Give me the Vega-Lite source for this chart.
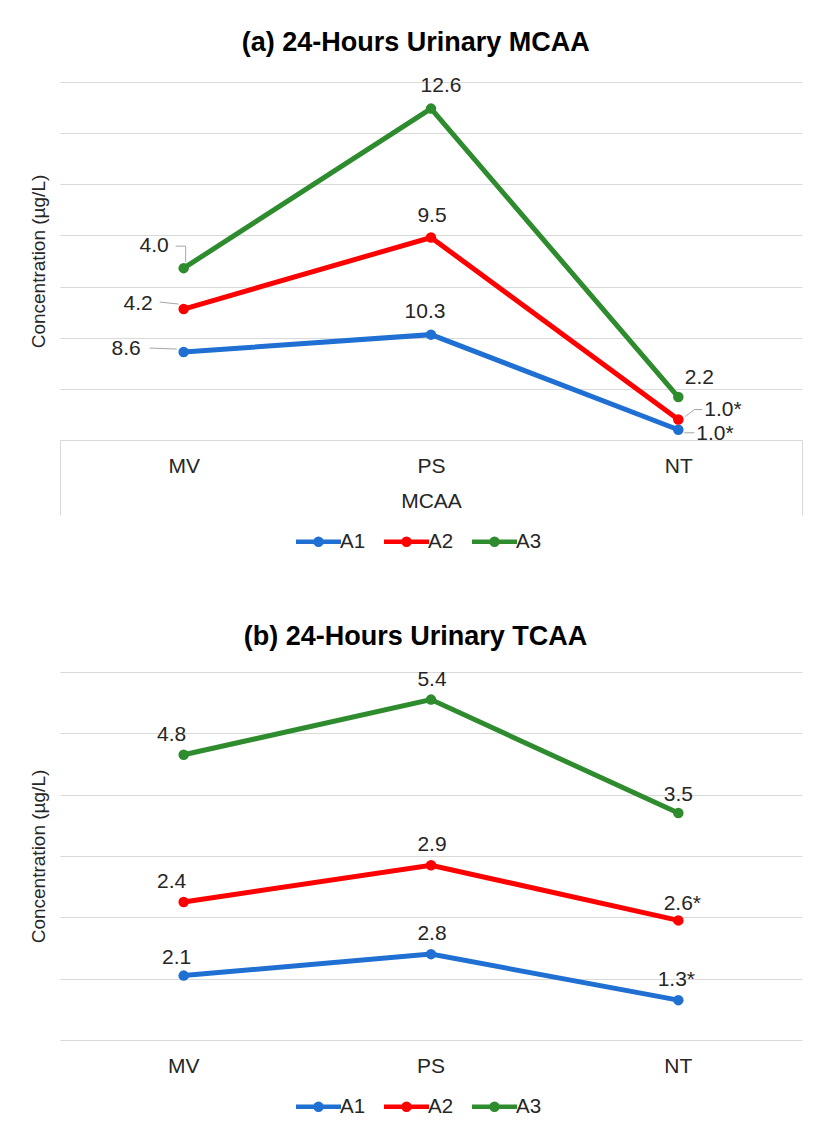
{
  "$schema": "https://vega.github.io/schema/vega-lite/v6.json",
  "padding": {"left": 29, "top": 28, "right": 5, "bottom": 2},
  "datasets": {
    "mcaa": [
      {"cat": "MV", "series": "A1", "value": 8.6, "label": "8.6"},
      {"cat": "MV", "series": "A2", "value": 4.2, "label": "4.2"},
      {"cat": "MV", "series": "A3", "value": 4.0, "label": "4.0"},
      {"cat": "PS", "series": "A1", "value": 10.3, "label": "10.3"},
      {"cat": "PS", "series": "A2", "value": 9.5, "label": "9.5"},
      {"cat": "PS", "series": "A3", "value": 12.6, "label": "12.6"},
      {"cat": "NT", "series": "A1", "value": 1.0, "label": "1.0*"},
      {"cat": "NT", "series": "A2", "value": 1.0, "label": "1.0*"},
      {"cat": "NT", "series": "A3", "value": 2.2, "label": "2.2"}
    ],
    "tcaa": [
      {"cat": "MV", "series": "A1", "value": 2.1, "label": "2.1"},
      {"cat": "MV", "series": "A2", "value": 2.4, "label": "2.4"},
      {"cat": "MV", "series": "A3", "value": 4.8, "label": "4.8"},
      {"cat": "PS", "series": "A1", "value": 2.8, "label": "2.8"},
      {"cat": "PS", "series": "A2", "value": 2.9, "label": "2.9"},
      {"cat": "PS", "series": "A3", "value": 5.4, "label": "5.4"},
      {"cat": "NT", "series": "A1", "value": 1.3, "label": "1.3*"},
      {"cat": "NT", "series": "A2", "value": 2.6, "label": "2.6*"},
      {"cat": "NT", "series": "A3", "value": 3.5, "label": "3.5"}
    ]
  },
  "config": {
    "font": "Liberation Sans",
    "view": {"stroke": null},
    "axis": {"gridColor": "#d9d9d9", "domainColor": "#d9d9d9", "labelColor": "#262626", "titleColor": "#262626", "titleFontWeight": "normal", "labelFontSize": 21, "titleFontSize": 19},
    "title": {"fontSize": 27, "fontWeight": "bold", "color": "#000000", "offset": 18, "frame": "bounds"},
    "legend": {"orient": "none", "direction": "horizontal", "title": null, "labelFontSize": 20.5, "labelColor": "#262626", "symbolType": "M-1.5,0H1.5M0.2,0A0.2,0.2,0,1,1,-0.2,0A0.2,0.2,0,1,1,0.2,0", "symbolSize": 900, "symbolStrokeWidth": 4.5, "labelOffset": 4, "columnPadding": 9},
    "text": {"fontSize": 21, "color": "#262626"},
    "rule": {"color": "#a6a6a6", "strokeWidth": 1},
    "concat": {"spacing": 68}
  },
  "resolve": {"scale": {"color": "independent"}, "legend": {"color": "independent"}},
  "vconcat": [
    {
      "title": {"text": "(a) 24-Hours Urinary MCAA"},
      "width": 742,
      "height": 358,
      "data": {"name": "mcaa"},
      "transform": [{"stack": "value", "groupby": ["cat"], "sort": [{"field": "series", "order": "ascending"}], "as": ["y0", "y1"]}],
      "encoding": {
        "x": {"field": "cat", "type": "nominal", "sort": ["MV", "PS", "NT"], "scale": {"type": "band", "paddingInner": 0, "paddingOuter": 0},
          "axis": {"title": "MCAA", "labelAngle": 0, "domain": true, "ticks": true, "tickBand": "extent", "tickSize": 75, "tickColor": {"condition": {"test": "datum.value == 'NT' || datum.extra", "value": "#d9d9d9"}, "value": "transparent"}, "labelPadding": -60, "titlePadding": -25, "titleFontSize": 21, "grid": false}},
        "y": {"field": "y1", "type": "quantitative", "scale": {"domain": [0, 35]},
          "axis": {"values": [0, 5, 10, 15, 20, 25, 30, 35], "labels": false, "ticks": false, "domain": false, "title": "Concentration (µg/L)", "titlePadding": 12}},
        "color": {"field": "series", "type": "nominal", "scale": {"domain": ["A1", "A2", "A3"], "range": ["#1f70d2", "#ff0000", "#2e8b2e"]}, "legend": {"legendX": 241, "legendY": 442}}
      },
      "layer": [
        {"mark": {"type": "line", "strokeWidth": 5}},
        {"mark": {"type": "point", "filled": true, "size": 110, "opacity": 1}},
        {"transform": [{"filter": "datum.cat == 'MV' && datum.series == 'A1'"}], "mark": {"type": "rule", "xOffset": -34, "yOffset": -4, "x2Offset": -7, "y2Offset": -3}, "encoding": {"x": {"field": "cat", "type": "nominal", "bandPosition": 0.5}, "x2": {"field": "cat", "bandPosition": 0.5}, "y2": {"field": "y1"}, "color": {"value": "#a6a6a6"}}},
        {"transform": [{"filter": "datum.cat == 'MV' && datum.series == 'A2'"}], "mark": {"type": "rule", "xOffset": -24, "yOffset": -7, "x2Offset": -5, "y2Offset": -5}, "encoding": {"x": {"field": "cat", "type": "nominal", "bandPosition": 0.5}, "x2": {"field": "cat", "bandPosition": 0.5}, "y2": {"field": "y1"}, "color": {"value": "#a6a6a6"}}},
        {"transform": [{"filter": "datum.cat == 'MV' && datum.series == 'A3'"}], "mark": {"type": "rule", "xOffset": -8, "yOffset": -22, "x2Offset": 2, "y2Offset": -22}, "encoding": {"x": {"field": "cat", "type": "nominal", "bandPosition": 0.5}, "x2": {"field": "cat", "bandPosition": 0.5}, "y2": {"field": "y1"}, "color": {"value": "#a6a6a6"}}},
        {"transform": [{"filter": "datum.cat == 'MV' && datum.series == 'A3'"}], "mark": {"type": "rule", "xOffset": 2, "yOffset": -22, "x2Offset": 2, "y2Offset": -6}, "encoding": {"x": {"field": "cat", "type": "nominal", "bandPosition": 0.5}, "x2": {"field": "cat", "bandPosition": 0.5}, "y2": {"field": "y1"}, "color": {"value": "#a6a6a6"}}},
        {"transform": [{"filter": "datum.cat == 'NT' && datum.series == 'A2'"}], "mark": {"type": "rule", "xOffset": 16, "yOffset": -10, "x2Offset": 24, "y2Offset": -10}, "encoding": {"x": {"field": "cat", "type": "nominal", "bandPosition": 0.5}, "x2": {"field": "cat", "bandPosition": 0.5}, "y2": {"field": "y1"}, "color": {"value": "#a6a6a6"}}},
        {"transform": [{"filter": "datum.cat == 'NT' && datum.series == 'A2'"}], "mark": {"type": "rule", "xOffset": 16, "yOffset": -10, "x2Offset": 7, "y2Offset": -3}, "encoding": {"x": {"field": "cat", "type": "nominal", "bandPosition": 0.5}, "x2": {"field": "cat", "bandPosition": 0.5}, "y2": {"field": "y1"}, "color": {"value": "#a6a6a6"}}},
        {"transform": [{"filter": "datum.cat == 'NT' && datum.series == 'A1'"}], "mark": {"type": "rule", "xOffset": 6, "yOffset": 3, "x2Offset": 16, "y2Offset": 3}, "encoding": {"x": {"field": "cat", "type": "nominal", "bandPosition": 0.5}, "x2": {"field": "cat", "bandPosition": 0.5}, "y2": {"field": "y1"}, "color": {"value": "#a6a6a6"}}},
        {"transform": [{"filter": "datum.cat == 'MV' && datum.series == 'A1'"}], "mark": {"type": "text", "align": "right", "dx": -43, "dy": -3}, "encoding": {"text": {"field": "label"}, "color": {"value": "#262626"}}},
        {"transform": [{"filter": "datum.cat == 'MV' && datum.series == 'A2'"}], "mark": {"type": "text", "align": "right", "dx": -31, "dy": -5}, "encoding": {"text": {"field": "label"}, "color": {"value": "#262626"}}},
        {"transform": [{"filter": "datum.cat == 'MV' && datum.series == 'A3'"}], "mark": {"type": "text", "align": "right", "dx": -15, "dy": -22}, "encoding": {"text": {"field": "label"}, "color": {"value": "#262626"}}},
        {"transform": [{"filter": "datum.cat == 'PS' && datum.series == 'A1'"}], "mark": {"type": "text", "align": "center", "dx": -6, "dy": -23}, "encoding": {"text": {"field": "label"}, "color": {"value": "#262626"}}},
        {"transform": [{"filter": "datum.cat == 'PS' && datum.series == 'A2'"}], "mark": {"type": "text", "align": "center", "dx": 1, "dy": -21}, "encoding": {"text": {"field": "label"}, "color": {"value": "#262626"}}},
        {"transform": [{"filter": "datum.cat == 'PS' && datum.series == 'A3'"}], "mark": {"type": "text", "align": "center", "dx": 10, "dy": -23}, "encoding": {"text": {"field": "label"}, "color": {"value": "#262626"}}},
        {"transform": [{"filter": "datum.cat == 'NT' && datum.series == 'A3'"}], "mark": {"type": "text", "align": "center", "dx": 21, "dy": -19}, "encoding": {"text": {"field": "label"}, "color": {"value": "#262626"}}},
        {"transform": [{"filter": "datum.cat == 'NT' && datum.series == 'A2'"}], "mark": {"type": "text", "align": "left", "dx": 26, "dy": -10}, "encoding": {"text": {"field": "label"}, "color": {"value": "#262626"}}},
        {"transform": [{"filter": "datum.cat == 'NT' && datum.series == 'A1'"}], "mark": {"type": "text", "align": "left", "dx": 18, "dy": 4}, "encoding": {"text": {"field": "label"}, "color": {"value": "#262626"}}}
      ]
    },
    {
      "title": {"text": "(b) 24-Hours Urinary TCAA"},
      "width": 742,
      "height": 368,
      "data": {"name": "tcaa"},
      "transform": [{"stack": "value", "groupby": ["cat"], "sort": [{"field": "series", "order": "ascending"}], "as": ["y0", "y1"]}],
      "encoding": {
        "x": {"field": "cat", "type": "nominal", "sort": ["MV", "PS", "NT"], "scale": {"type": "band", "paddingInner": 0, "paddingOuter": 0},
          "axis": {"title": null, "labelAngle": 0, "domain": false, "ticks": false, "labelPadding": 15, "grid": false}},
        "y": {"field": "y1", "type": "quantitative", "scale": {"domain": [0, 12]},
          "axis": {"values": [0, 2, 4, 6, 8, 10, 12], "labels": false, "ticks": false, "domain": false, "title": "Concentration (µg/L)", "titlePadding": 12}},
        "color": {"field": "series", "type": "nominal", "scale": {"domain": ["A1", "A2", "A3"], "range": ["#1f70d2", "#ff0000", "#2e8b2e"]}, "legend": {"legendX": 241, "legendY": 417}}
      },
      "layer": [
        {"mark": {"type": "line", "strokeWidth": 5}},
        {"mark": {"type": "point", "filled": true, "size": 110, "opacity": 1}},
        {"transform": [{"filter": "datum.cat == 'MV' && datum.series == 'A1'"}], "mark": {"type": "text", "align": "center", "dx": -7, "dy": -18}, "encoding": {"text": {"field": "label"}, "color": {"value": "#262626"}}},
        {"transform": [{"filter": "datum.cat == 'MV' && datum.series != 'A1'"}], "mark": {"type": "text", "align": "center", "dx": -12, "dy": -20}, "encoding": {"text": {"field": "label"}, "color": {"value": "#262626"}}},
        {"transform": [{"filter": "datum.cat == 'PS'"}], "mark": {"type": "text", "align": "center", "dx": 1, "dy": -20}, "encoding": {"text": {"field": "label"}, "color": {"value": "#262626"}}},
        {"transform": [{"filter": "datum.cat == 'NT' && datum.series == 'A3'"}], "mark": {"type": "text", "align": "center", "dx": 0, "dy": -18}, "encoding": {"text": {"field": "label"}, "color": {"value": "#262626"}}},
        {"transform": [{"filter": "datum.cat == 'NT' && datum.series == 'A2'"}], "mark": {"type": "text", "align": "center", "dx": 4, "dy": -16}, "encoding": {"text": {"field": "label"}, "color": {"value": "#262626"}}},
        {"transform": [{"filter": "datum.cat == 'NT' && datum.series == 'A1'"}], "mark": {"type": "text", "align": "center", "dx": -2, "dy": -20}, "encoding": {"text": {"field": "label"}, "color": {"value": "#262626"}}}
      ]
    }
  ]
}
